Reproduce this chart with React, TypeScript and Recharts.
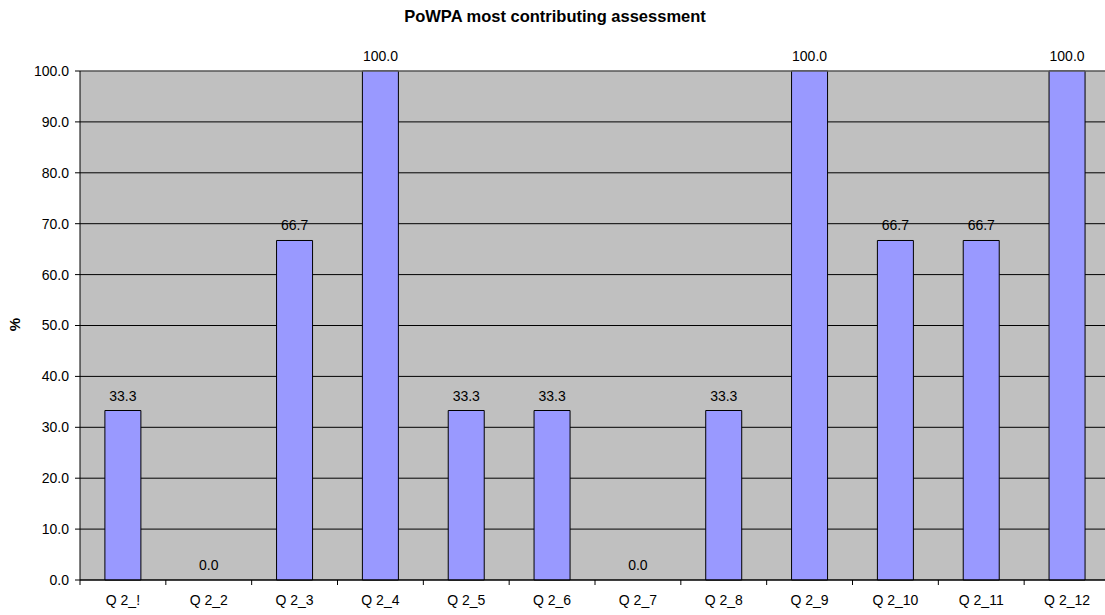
import React from "react";
import {
  ComposedChart,
  Bar,
  Line,
  XAxis,
  YAxis,
  CartesianGrid,
  LabelList,
  ReferenceLine,
} from "recharts";

const categories = ["Q 2_!", "Q 2_2", "Q 2_3", "Q 2_4", "Q 2_5", "Q 2_6", "Q 2_7", "Q 2_8", "Q 2_9", "Q 2_10", "Q 2_11", "Q 2_12"];
const percentages = [33.3, 0.0, 66.7, 100.0, 33.3, 33.3, 0.0, 33.3, 100.0, 66.7, 66.7, 100.0];
const yTicks = [0, 10, 20, 30, 40, 50, 60, 70, 80, 90, 100];

const data = categories.map((name, i) => ({ name, value: percentages[i] }));

const font = "'Liberation Sans', Arial, sans-serif";
const CHART_W = 1110;
const Y_AXIS_W = 80;
const BAND = (CHART_W - Y_AXIS_W) / categories.length;

// category label plus tick marks at the category boundaries
function CategoryTick(props: any) {
  const { x, y, payload, index } = props;
  const left = x - BAND / 2;
  return (
    <g>
      <line x1={left} x2={left} y1={y} y2={y + 5} stroke="#000" />
      {index === categories.length - 1 && (
        <line x1={x + BAND / 2} x2={x + BAND / 2} y1={y} y2={y + 5} stroke="#000" />
      )}
      <text x={x} y={y + 25} textAnchor="middle" fill="#000" fontSize={14} fontFamily={font}>
        {payload.value}
      </text>
    </g>
  );
}

export default function App() {
  return (
    <div style={{ position: "absolute", left: 0, top: 0, width: 1105, height: 615, overflow: "hidden", background: "#fff", fontFamily: font }}>
      <div
        style={{
          position: "absolute",
          left: 0,
          width: CHART_W,
          top: 7,
          textAlign: "center",
          fontSize: 16.5,
          fontWeight: "bold",
          color: "#000",
        }}
      >
        PoWPA most contributing assessment
      </div>
      <div
        style={{
          position: "absolute",
          left: 8,
          top: 316,
          fontSize: 15,
          fontWeight: "bold",
          lineHeight: "17px",
          transform: "rotate(-90deg)",
          color: "#000",
        }}
      >
        %
      </div>
      <ComposedChart
        width={CHART_W}
        height={615}
        data={data}
        margin={{ top: 71, right: 0, left: 0, bottom: 0 }}
        barCategoryGap="29%"
      >
        <CartesianGrid vertical={false} stroke="#000" fill="#C0C0C0" fillOpacity={1} />
        <XAxis
          dataKey="name"
          height={35}
          interval={0}
          axisLine={{ stroke: "#000" }}
          tickLine={false}
          tickSize={0}
          tickMargin={0}
          tick={<CategoryTick />}
        />
        <YAxis
          domain={[0, 100]}
          ticks={yTicks}
          width={Y_AXIS_W}
          interval={0}
          axisLine={{ stroke: "#000" }}
          tickLine={{ stroke: "#000" }}
          tickSize={5}
          tickMargin={6}
          tickFormatter={(v: number) => v.toFixed(1)}
          tick={{ fill: "#000", fontSize: 14, fontFamily: font }}
        />
        <ReferenceLine y={100} stroke="#808080" />
        <Bar dataKey="value" fill="#9999FF" stroke="#000" strokeWidth={1} isAnimationActive={false} />
        <Line
          dataKey="value"
          stroke="none"
          dot={false}
          activeDot={false}
          isAnimationActive={false}
        >
          <LabelList
            dataKey="value"
            position="top"
            offset={10}
            formatter={(v: number) => v.toFixed(1)}
            style={{ fill: "#000", fontSize: 14, fontFamily: font }}
          />
        </Line>
      </ComposedChart>
    </div>
  );
}
